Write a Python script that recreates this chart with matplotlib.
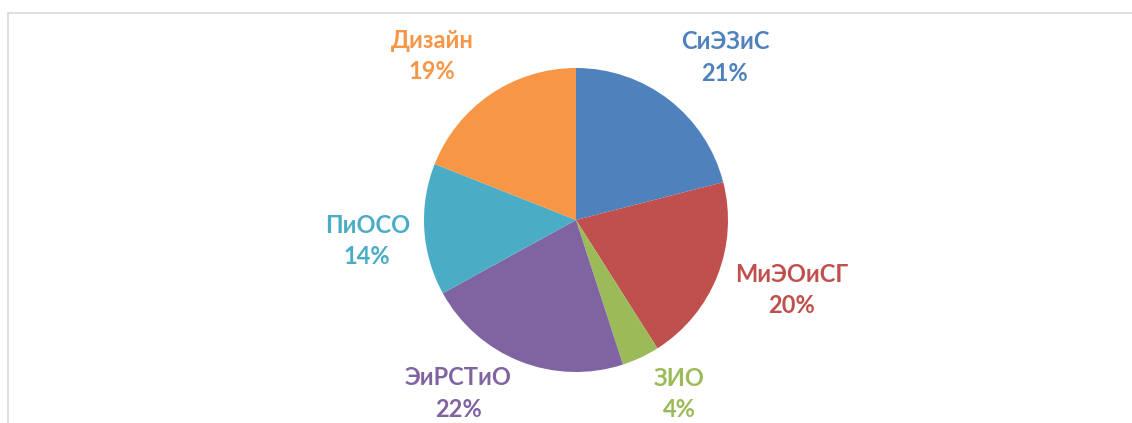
import numpy as np
import matplotlib
matplotlib.use("Agg")
import matplotlib.pyplot as plt
from matplotlib.patches import Rectangle

# data
categories = ["СиЭЗиС", "МиЭОиСГ", "ЗИО", "ЭиРСТиО", "ПиОСО", "Дизайн"]
shares = [21, 20, 4, 22, 14, 19]
colors = ["#4F81BD", "#C0504D", "#9BBB59", "#8064A2", "#4BACC6", "#F79646"]

W, H = 1132, 423
cx, cy, R = 576, 220, 152  # pixel centre / radius of the pie

fig = plt.figure(figsize=(W / 100, H / 100), dpi=100)
fig.patch.set_facecolor("white")

# light grey chart frame (cut off on the right and bottom)
fig.patches.append(Rectangle((8 / W, -0.1), 1.1, (H - 13) / H + 0.1,
                             transform=fig.transFigure, fill=False,
                             edgecolor="#D9D9D9", linewidth=1.2))

ax = fig.add_axes([0, 0, 1, 1])
wedges, _ = ax.pie(shares, colors=colors, startangle=90, counterclock=False,
                   radius=1, wedgeprops=dict(linewidth=0))

ax.set_xlim(-cx / R, (W - cx) / R)
ax.set_ylim(-(H - cy) / R, cy / R)
ax.set_aspect("equal")
ax.axis("off")

# labels outside each slice (best-fit nudges: radius, angle shift in deg)
dist = [1.45, 1.49, 1.33, 1.38, 1.38, 1.435]
shift = [-4.7, 3.6, 5.4, -12.5, 2.1, 7.1]
for w, name, val, col, d, s in zip(wedges, categories, shares, colors, dist, shift):
    ang = np.deg2rad((w.theta1 + w.theta2) / 2 + s)
    x, y = d * np.cos(ang), d * np.sin(ang)
    ax.text(x, y, f"{name}\n{val}%", color=col, ha="center", va="center",
            fontsize=17, fontweight="bold", family="Lato", linespacing=1.45)

fig.savefig("out.png", dpi=100)
